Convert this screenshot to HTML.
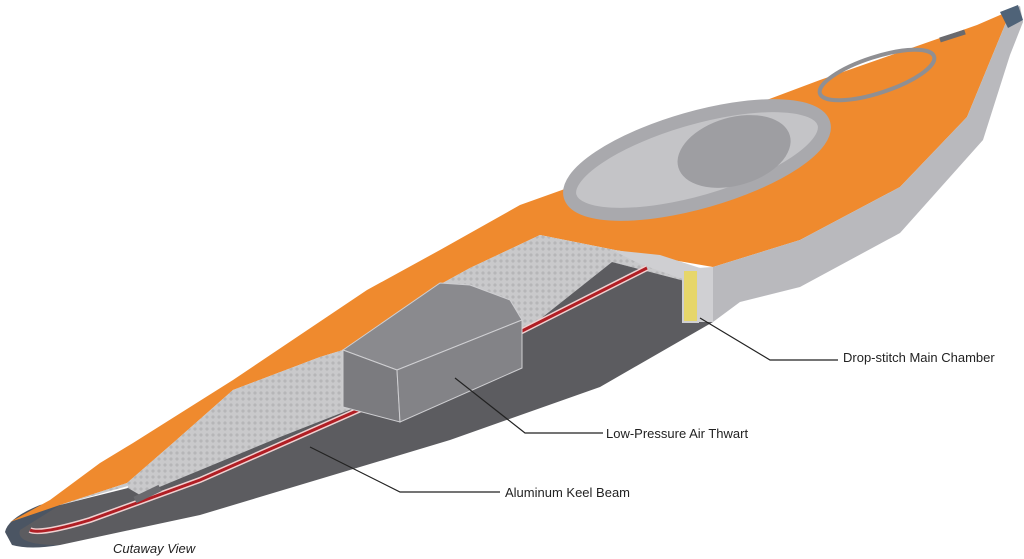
<!DOCTYPE html>
<html><head><meta charset="utf-8"><style>
html,body{margin:0;padding:0;background:#fff;}
svg{display:block}
text{font-family:"Liberation Sans",sans-serif;fill:#222}
</style></head><body>
<svg width="1024" height="559" viewBox="0 0 1024 559" xmlns="http://www.w3.org/2000/svg">
<defs>
<pattern id="tex" width="6" height="6" patternUnits="userSpaceOnUse">
<rect width="6" height="6" fill="#c9c9cb"/><circle cx="3" cy="3" r="1.6" fill="#b6b6b8"/>
</pattern>
</defs>
<path d="M5,532 Q8,518 40,505 L60,500 L60,545 Q30,550 12,545 Z" fill="#4b5563"/>
<path d="M10,522 L50,500 L100,463 L133,443 L233,380 L367,290 L440,250 L520,205 L562,190 L740,110 L820,80 L977,25 L1007,12 L1007,20 L967,117 L900,187 L800,240 L713,267 L615,250 L540,235 L470,268 L430,290 L343,350 L320,357 L233,390 L173,443 L127,483 L60,505 Z" fill="#ef8a2e"/>
<path d="M1007,12 L1020,6 L1023,22 L1010,55 L983,140 L900,233 L800,287 L740,302 L713,322 L713,267 L800,240 L900,187 L967,117 L1007,20 Z" fill="#b9b9bd"/>
<path d="M1000,12 L1018,5 L1023,20 L1008,28 Z" fill="#4f6378"/>
<path d="M60,505 L127,483 L173,443 L233,390 L320,357 L343,350 L430,290 L470,268 L540,235 L615,250 L700,268 L700,285 L612,262 L520,335 L400,390 L280,437 L140,495 Q125,497 128,486 Z" fill="url(#tex)"/>
<path d="M20,530 L60,505 L128,488 L140,495 L280,437 L400,390 L520,335 L612,262 L700,285 L700,322 L713,322 L600,387 L450,440 L200,515 L60,545 Q15,545 20,530 Z" fill="#5c5c60"/>
<path d="M612,250 L660,255 L700,268 L700,285 L640,264 Z" fill="#cfcfd2"/>
<path d="M647,268 L520,332 M370,405 L200,480 L90,520 Q40,535 30,530" stroke="#f0d0d0" stroke-width="6" fill="none"/>
<path d="M647,268 L520,332 M370,405 L200,480 L90,520 Q40,535 30,530" stroke="#b01e24" stroke-width="3" fill="none"/>
<path d="M343,350 L440,283 L470,285 L510,300 L522,320 L397,370 Z" fill="#8a8a8e" stroke="#cfcfd2" stroke-width="1"/>
<path d="M343,350 L397,370 L400,422 L343,407 Z" fill="#7b7b7f" stroke="#cfcfd2" stroke-width="1"/>
<path d="M397,370 L522,320 L522,368 L400,422 Z" fill="#838387" stroke="#cfcfd2" stroke-width="1"/>
<rect x="683" y="270" width="15" height="52" fill="#e6d66a" stroke="#cfcfd2" stroke-width="2"/>
<path d="M698,268 L713,267 L713,322 L698,322 Z" fill="#d0d0d3"/>
<g transform="rotate(-16 697 160)">
<ellipse cx="697" cy="160" rx="132" ry="42" fill="#c4c4c7" stroke="#a9a9ad" stroke-width="13"/>
<ellipse cx="735" cy="162" rx="58" ry="34" fill="#9e9ea2"/>
</g>
<g transform="rotate(-18 877 75)"><ellipse cx="877" cy="75" rx="60" ry="18" fill="none" stroke="#8f8f93" stroke-width="4"/></g>
<path d="M135,500 L160,488" stroke="#6a6a6e" stroke-width="7"/>
<path d="M940,40 L965,32" stroke="#6a6a6e" stroke-width="5"/>
<g stroke="#222" stroke-width="1.2" fill="none">
<path d="M700,318 L770,360 L838,360"/>
<path d="M455,378 L525,433 L603,433"/>
<path d="M310,447 L400,492 L500,492"/>
</g>
<text x="843" y="362" font-size="13">Drop-stitch Main Chamber</text>
<text x="606" y="438" font-size="13">Low-Pressure Air Thwart</text>
<text x="505" y="497" font-size="13">Aluminum Keel Beam</text>
<text x="113" y="553" font-size="13" font-style="italic">Cutaway View</text>
</svg>
</body></html>
